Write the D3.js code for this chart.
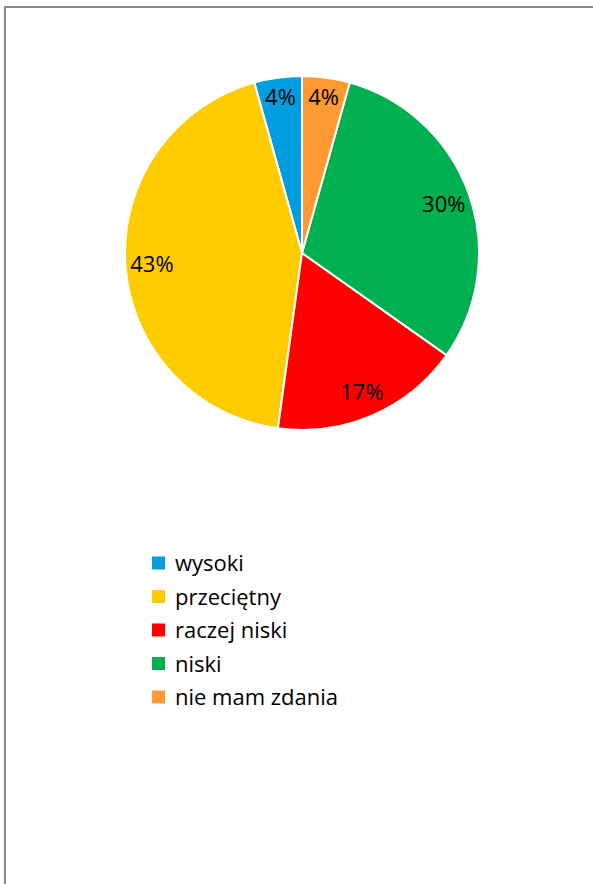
<!DOCTYPE html>
<html>
<head>
<meta charset="utf-8">
<script src="https://cdn.jsdelivr.net/npm/d3@7"></script>
<style>
  body { margin: 0; background: #fff; }
  svg { display: block; font-family: "Open Sans", sans-serif; }
</style>
</head>
<body>
<div id="chart"></div>
<script>
// data
const categories = ['wysoki', 'przeciętny', 'raczej niski', 'niski', 'nie mam zdania'];
const counts = [1, 10, 4, 7, 1];
const colors = ['#009ee0', '#ffcc00', '#ff0000', '#00b050', '#ff9933'];

const width = 593, height = 884;
const cx = 302, cy = 253, radius = 177;

const svg = d3.select('#chart')
  .append('svg')
  .attr('width', width)
  .attr('height', height);

// frame (only left and top edges visible)
svg.append('rect')
  .attr('x', 5)
  .attr('y', 7)
  .attr('width', 700)
  .attr('height', 1000)
  .attr('fill', 'none')
  .attr('stroke', '#888')
  .attr('stroke-width', 2);

const total = d3.sum(counts);
const color = d3.scaleOrdinal().domain(categories).range(colors);

// slices run counter-clockwise from 12 o'clock
const pie = d3.pie()
  .sort(null)
  .value(d => d.value)
  .startAngle(0)
  .endAngle(-2 * Math.PI);

const arcs = pie(categories.map((c, i) => ({ name: c, value: counts[i] })));

const arc = d3.arc().innerRadius(0).outerRadius(radius);

const g = svg.append('g')
  .attr('transform', `translate(${cx}, ${cy})`);

g.selectAll('path')
  .data(arcs)
  .enter()
  .append('path')
  .attr('d', arc)
  .attr('fill', d => color(d.data.name))
  .attr('stroke', '#fff')
  .attr('stroke-width', 2);

// labels: small slices sit a bit further out
g.selectAll('text')
  .data(arcs)
  .enter()
  .append('text')
  .attr('transform', d => {
    const share = d.data.value / total;
    const r = radius * (share < 0.1 ? 0.893 : 0.85);
    const c = d3.arc().innerRadius(r).outerRadius(r).centroid(d);
    return `translate(${c[0]}, ${c[1]})`;
  })
  .attr('text-anchor', 'middle')
  .attr('dominant-baseline', 'central')
  .attr('font-size', 22)
  .attr('fill', '#000')
  .text(d => d3.format('.0%')(d.data.value / total));

// legend
const legendY = d3.scalePoint()
  .domain(categories)
  .range([563, 697]);

const legend = svg.append('g');

const item = legend.selectAll('g')
  .data(categories)
  .enter()
  .append('g')
  .attr('transform', d => `translate(152, ${legendY(d)})`);

item.append('rect')
  .attr('x', 0)
  .attr('y', -6.5)
  .attr('width', 13)
  .attr('height', 13)
  .attr('fill', d => color(d));

item.append('text')
  .attr('x', 23)
  .attr('y', -1)
  .attr('dominant-baseline', 'central')
  .attr('font-size', 22)
  .attr('fill', '#000')
  .text(d => d);
</script>
</body>
</html>
